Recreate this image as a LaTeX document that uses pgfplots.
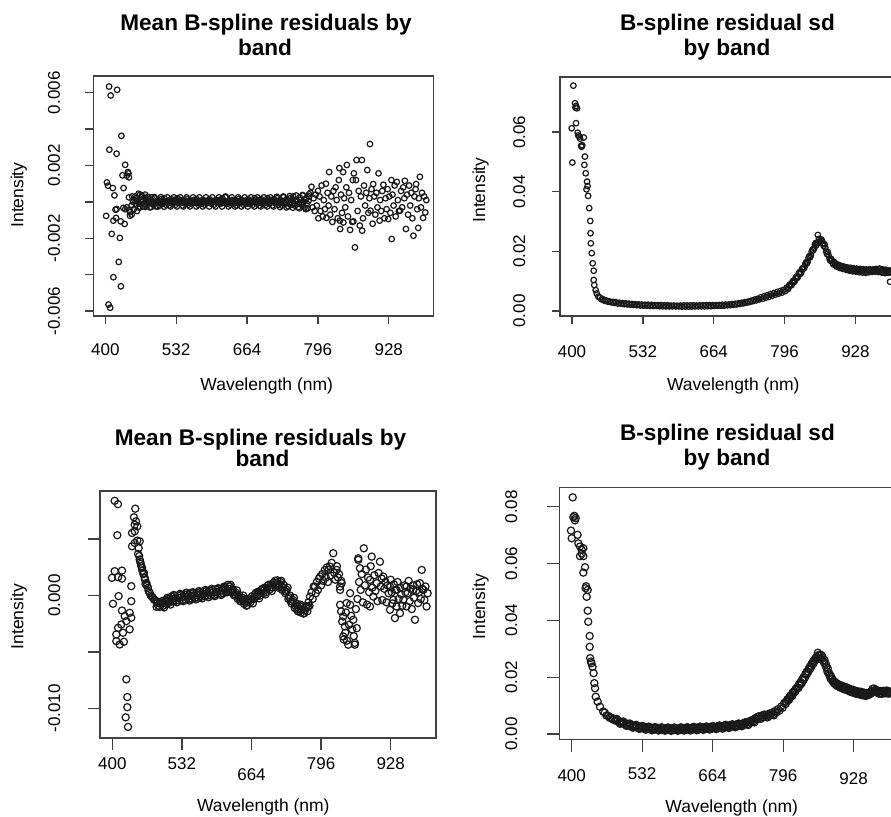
\documentclass[border=0pt]{standalone}
\usepackage{pgfplots}
\pgfplotsset{compat=1.18}
\usepackage{fontspec}
\setmainfont{Liberation Sans}
\begin{document}
\begin{tikzpicture}[x=0.5pt,y=0.5pt]
\useasboundingbox (0,0) rectangle (891,817);
\clip (0,0) rectangle (891,817);
\pgfplotsset{
  rbase/.style={
    scale only axis, anchor=south west,
    axis line style={line width=0.65pt, black!75},
    every tick/.style={line width=0.65pt, black!75},
    tick align=outside, tick pos=left,
    xtick={400,532,664,796,928},
    tick label style={font=\fontsize{8.5}{10}\selectfont, black},
  },
  rpts/.style={only marks, mark=o, mark size=#1, mark options={line width=0.6pt, black!90}},
}
\tikzset{ttl/.style={anchor=base, font=\fontsize{11.3}{13}\selectfont\bfseries},
         lbl/.style={anchor=base, font=\fontsize{8.75}{10}\selectfont}}

% ---------- top left: mean residuals (x1000)
\begin{axis}[rbase, at={(46.65pt,250.5pt)}, width=170pt, height=120pt,
  xmin=377.6, xmax=1011, ymin=-6.27, ymax=6.92, major tick length=4pt,
  xticklabels={400,532,664,796,928},
  ytick={-6,-4,-2,0,2,4,6}, yticklabels={-0.006,,-0.002,,0.002,,0.006},
  xticklabel style={anchor=base, yshift=-16pt},
  yticklabel style={xshift=-12.65pt, rotate=90, anchor=base}]
\addplot[rpts=1.4pt] coordinates {
(407,6.34)(422,6.16)(410,5.85)(430,3.63)(407.5,2.87)(421,2.65)(437,2.04)(442,1.64)(432,1.46)(444,1.35)
(403,1.07)(405,0.89)(414,0.76)(434,0.76)(417,0.36)(444,0.25)(401.5,-0.77)(419,-0.43)(420,-0.88)(428.7,-1.07)
(436,-1.21)(440,-0.3)(445,-0.43)(449,-0.7)(412,-1.76)(427,-1.98)(425,-3.3)(415,-4.14)(429,-4.64)(406,-5.64)
(409,-5.82)(433.5,-0.33)(437,-0.4)(446,-0.57)(449,-0.2)(464.7,0.4)(474,0.21)(458.5,0.03)(440,1.44)(443,1.57)
(421,-0.39)(415,-1.03)(446,-0.76)
(450,0.3)(453,-0.4)(456,0.2)(459,-0.5)(462,0.45)(465,-0.3)(468,0.35)(471,-0.25)(474,0.4)(477,-0.2)
(480,0.15)(483,-0.3)(486,0.25)(489,-0.15)(492,0.2)(495,-0.25)(498,0.1)(501,-0.2)(504,0.15)(507,-0.1)
(510,0.2)(513,-0.15)(516,0.05)(519,-0.2)(522,0.15)(525,-0.1)(528,0.1)(531,-0.15)(534,0.2)(537,-0.05)
(540,0.1)(543,-0.2)(546,0.05)(549,-0.1)(552,0.15)(555,-0.15)(558,0.05)(561,-0.1)(564,0.1)(567,-0.05)
(570,0.15)(573,-0.15)(576,0.05)(579,-0.1)(582,0.1)(585,-0.15)(588,0.05)(591,-0.05)(594,0.15)(597,-0.1)
(600,0.05)(603,-0.15)(606,0.1)(609,-0.05)(612,0.1)(615,-0.1)(618,0.2)(621,-0.05)(624,0.3)(627,-0.1)
(630,0.05)(633,-0.15)(636,0.1)(639,-0.1)(642,0.05)(645,-0.2)(648,0.15)(651,-0.05)(654,0.1)(657,-0.15)
(660,0.05)(663,-0.1)(666,0.15)(669,-0.1)(672,0.05)(675,-0.15)(678,0.2)(681,-0.05)(684,0.1)(687,-0.2)
(690,0.15)(693,-0.1)(696,0.05)(699,-0.15)(702,0.2)(705,-0.1)(708,0.1)(711,-0.2)(714,0.15)(717,-0.05)
(720,0.2)(723,-0.15)(726,0.1)(729,-0.2)(732,0.25)(735,-0.1)(738,0.15)(741,-0.25)(744,0.2)(747,-0.15)
(750,0.3)(753,-0.2)(756,0.1)(759,-0.3)(762,0.25)(765,-0.15)(768,0.35)(771,-0.3)(774,0.2)(777,-0.35)(780,0.3)
(451.5,0.0)(454.5,0.1)(457.5,-0.15)(460.5,0.05)(463.5,-0.1)(466.5,0.1)(469.5,0.0)(472.5,-0.1)(475.5,0.05)(478.5,0.0)
(481.5,-0.05)(484.5,0.05)(487.5,0.0)(490.5,-0.05)(493.5,0.0)(496.5,0.05)(499.5,-0.05)(502.5,0.0)(505.5,0.05)(508.5,-0.05)
(511.5,0.0)(514.5,0.05)(517.5,-0.05)(520.5,0.0)(523.5,0.05)(526.5,-0.05)(529.5,0.0)(532.5,0.05)(535.5,-0.05)(538.5,0.0)
(541.5,0.05)(544.5,-0.05)(547.5,0.0)(550.5,0.05)(553.5,-0.05)(556.5,0.0)(559.5,0.05)(562.5,-0.05)(565.5,0.0)(568.5,0.05)
(571.5,-0.05)(574.5,0.0)(577.5,0.05)(580.5,-0.05)(583.5,0.0)(586.5,0.05)(589.5,-0.05)(592.5,0.0)(595.5,0.05)(598.5,-0.05)
(601.5,0.0)(604.5,0.05)(607.5,-0.05)(610.5,0.0)(613.5,0.05)(616.5,-0.05)(619.5,0.0)(622.5,0.05)(625.5,-0.05)(628.5,0.0)
(631.5,0.05)(634.5,-0.05)(637.5,0.0)(640.5,0.05)(643.5,-0.05)(646.5,0.0)(649.5,0.05)(652.5,-0.05)(655.5,0.0)(658.5,0.05)
(661.5,-0.05)(664.5,0.0)(667.5,0.05)(670.5,-0.05)(673.5,0.0)(676.5,0.05)(679.5,-0.05)(682.5,0.0)(685.5,0.05)(688.5,-0.05)
(691.5,0.0)(694.5,0.05)(697.5,-0.05)(700.5,0.0)(703.5,0.05)(706.5,-0.05)(709.5,0.0)(712.5,0.05)(715.5,-0.05)(718.5,0.0)
(721.5,0.05)(724.5,-0.05)(727.5,0.0)(730.5,0.05)(733.5,-0.05)(736.5,0.0)(739.5,0.05)(742.5,-0.1)(745.5,0.0)(748.5,0.1)
(751.5,-0.1)(754.5,0.05)(757.5,0.0)(760.5,-0.1)(763.5,0.1)(766.5,-0.05)(769.5,0.0)(772.5,0.1)(775.5,-0.1)(778.5,0.05)
(455.5,0.3)(461.5,-0.3)(467.5,0.28)(473.5,-0.28)(479.5,0.28)(485.5,-0.28)(491.5,0.26)(497.5,-0.26)(503.5,0.26)(509.5,-0.26)
(515.5,0.25)(521.5,-0.25)(527.5,0.25)(533.5,-0.25)(539.5,0.25)(545.5,-0.25)(551.5,0.25)(557.5,-0.25)(563.5,0.25)(569.5,-0.25)
(575.5,0.25)(581.5,-0.25)(587.5,0.25)(593.5,-0.25)(599.5,0.25)(605.5,-0.25)(611.5,0.25)(617.5,-0.25)(623.5,0.25)(629.5,-0.25)
(635.5,0.25)(641.5,-0.25)(647.5,0.25)(653.5,-0.25)(659.5,0.25)(665.5,-0.25)(671.5,0.25)(677.5,-0.25)(683.5,0.25)(689.5,-0.25)
(695.5,0.25)(701.5,-0.25)(707.5,0.25)(713.5,-0.25)(719.5,0.28)(725.5,-0.28)(731.5,0.3)(737.5,-0.3)(743.5,0.32)(749.5,-0.32)
(755.5,0.35)(761.5,-0.35)(767.5,0.38)(773.5,-0.4)(779.5,0.42)
(782,0.5)(784,0.83)(786,-0.3)(788,0.2)(790,-0.5)(792,0.4)(794,-0.2)(796,0.6)(797,-0.9)(799,0.3)
(801,-0.5)(803,0.9)(805,-0.8)(807,0.1)(809,-0.4)(811,1.0)(812,-0.88)(814,0.5)(816,-0.2)(817,1.64)
(819,-0.7)(821,0.3)(823,-1.1)(825,0.6)(827,-0.4)(829,0.8)(831,0.1)(833,-0.9)(835,1.2)(836,1.86)
(837,-1.03)(837.5,-1.49)(839,0.4)(841,-0.6)(843,1.64)(843.5,-1.13)(845,0.2)(847,-0.3)(849,0.8)(850,2.03)
(852,-0.8)(854,0.5)(856,-1.54)(858,0.1)(860,-1.1)(861,1.2)(862,-1.07)(863,1.57)(865,-2.5)(867,1.2)
(868,2.3)(870,-0.5)(872,0.6)(874,-1.3)(876,0.3)(878,2.3)(878.5,-1.58)(880,-0.9)(882,0.9)(884,-0.2)
(886,0.5)(888,1.75)(890,-0.6)(892,0.2)(893,3.18)(894,-0.48)(896,0.7)(898,-1.2)(899,0.98)(901,0.3)
(903,-0.7)(905,0.5)(907,-0.3)(909,1.57)(911,-1.03)(912,0.1)(914,-0.5)(916,0.6)(918,0.94)(920,-0.9)
(922,0.2)(924,-0.4)(926,0.7)(927,-0.94)(929,0.3)(931,-0.6)(933,1.2)(933.5,-2.04)(935,0.4)(937,-0.2)
(939,0.9)(941,-0.8)(943,1.1)(945,0.1)(947,-0.5)(949,-0.48)(951,0.6)(953,-0.3)(955,0.8)(957,0.2)
(958,1.16)(960,-1.49)(962,0.4)(964,-0.7)(966,0.9)(968,-0.2)(970,0.5)(972,-0.9)(974,-1.86)(976,0.3)
(978,0.7)(979,0.98)(981,-0.4)(983,-1.43)(984,0.2)(986,1.38)(988,-0.3)(990,0.5)(992,-0.88)(994,0.3)
(996,-0.58)(998,0.1)
};
\end{axis}

% ---------- top right: residual sd (x1000)
\begin{axis}[rbase, at={(280pt,250.5pt)}, width=170pt, height=119.5pt,
  xmin=377.6, xmax=1011, ymin=-1.68, ymax=78.5, major tick length=4pt,
  xticklabels={400,532,664,796,928},
  ytick={0,20,40,60}, yticklabels={0.00,0.02,0.04,0.06},
  xticklabel style={anchor=base, yshift=-16.6pt},
  yticklabel style={xshift=-13.5pt, rotate=90, anchor=base}]
\addplot[rpts=1.4pt] coordinates {
(399.4,61.3)(400.6,49.8)(402.5,75.6)(405.6,69.7)(406.5,68.2)(407.5,68.8)(409.3,68.0)(407.5,63.0)(410.6,59.8)(411.5,58.9)
(413.6,58.5)(418,55.1)(419,55.6)(421.8,58.2)(415,57.8)(417,55.4)(424,51.8)(423,49.0)(425.5,46.2)(428,43.4)
(427,40.8)(429,41.9)(430,38.6)(432,34.5)(434,30.2)(434.5,26.1)(435,22.7)(436.7,19.4)(438.5,16.0)(440.4,13.5)
(440.4,10.4)(441.5,8.7)(444,7.0)(446,5.9)(449,4.8)
(452,4.5)(455,3.9)(458,3.9)(461,3.4)(464,3.5)(467,3.1)(470,3.2)(473,2.9)(476,3.0)(479,2.7)
(482,2.9)(485,2.5)(488,2.75)(491,2.45)(494,2.65)(497,2.3)(500,2.55)(503,2.2)(506,2.45)(509,2.1)
(512,2.35)(515,2.05)(518,2.25)(521,1.95)(524,2.2)(527,1.85)(530,2.15)(533,1.8)(536,2.1)(539,1.75)
(542,2.1)(545,1.7)(548,2.05)(551,1.7)(554,1.95)(557,1.7)(560,1.95)(563,1.6)(566,1.95)(569,1.55)
(572,1.9)(575,1.55)(578,1.9)(581,1.55)(584,1.8)(587,1.55)(590,1.8)(593,1.55)(596,1.75)(599,1.55)
(602,1.8)(605,1.45)(608,1.85)(611,1.5)(614,1.85)(617,1.45)(620,1.85)(623,1.5)(626,1.9)(629,1.55)
(632,1.8)(635,1.55)(638,1.9)(641,1.55)(644,1.9)(647,1.55)(650,1.95)(653,1.6)(656,1.95)(659,1.6)
(662,1.95)(665,1.7)(668,1.95)(671,1.75)(674,2.0)(677,1.75)(680,2.1)(683,1.75)(686,2.15)(689,1.9)
(692,2.15)(695,1.95)(698,2.3)(701,2.05)(704,2.4)(707,2.2)(710,2.55)(713,2.35)(716,2.75)(719,2.55)
(722,2.95)(725,2.75)(728,3.15)(731,3.0)(734,3.45)(737,3.3)(740,3.8)(743,3.55)(746,4.1)(749,3.9)
(752,4.6)(755,4.1)(758,4.95)(761,4.45)(764,5.3)(767,4.75)(770,5.65)(773,5.15)(776,6.0)(779,5.5)
(782,6.35)(785,5.85)(788,6.7)(791,6.15)(794,7.05)(797,6.65)(800,7.8)(803,7.5)(806,8.9)(809,8.7)
(812,10.1)(815,10.0)(818,11.5)(821,11.5)(824,13.0)(827,12.9)(830,14.4)(833,14.6)(836,16.3)(839,16.5)
(842,18.4)(845,18.7)(848,20.6)(851,21.0)(854,22.8)(857,22.8)(860,24.2)(863,23.1)(866,23.4)(869,21.8)
(872,21.2)(875,19.1)(878,18.7)(881,16.9)(884,16.9)(887,15.6)(890,16.0)(893,14.9)(896,15.4)(899,14.4)
(902,15.0)(905,14.1)(908,14.7)(911,13.8)(914,14.4)(917,13.5)(920,14.2)(923,13.3)(926,14.0)(929,13.2)
(932,13.9)(935,13.0)(938,13.8)(941,12.9)(944,13.7)(947,12.8)(950,13.7)(953,13.0)(956,13.6)(959,13.1)
(962,13.7)(965,13.2)(968,13.8)(971,13.1)(974,14.0)(977,12.9)(980,13.8)(983,12.7)(986,13.7)(989,12.8)
(992,13.4)(995,12.9)(998,13.5)
(801.5,7.3)(804.5,8.5)(807.5,8.6)(810.5,9.6)(813.5,9.7)(816.5,11.0)(819.5,11.1)(822.5,12.6)(825.5,12.5)(828.5,14.1)
(831.5,14.2)(834.5,15.7)(837.5,15.9)(840.5,17.8)(843.5,18.0)(846.5,20.0)(849.5,20.4)(852.5,22.3)(855.5,22.1)(858,25.5)
(858.5,23.0)(861.5,23.4)(864.5,24.0)(867.5,22.7)(870.5,22.4)(873.5,19.9)(876.5,19.8)(879.5,17.6)(882.5,17.5)(885.5,16.1)
(888.5,16.4)(891.5,15.3)(894.5,15.6)(897.5,14.7)(900.5,15.2)(903.5,14.4)(906.5,14.9)(909.5,14.2)(912.5,14.6)(915.5,13.9)
(918.5,14.5)(921.5,13.7)(924.5,14.3)(927.5,13.5)(930.5,14.2)(933.5,13.4)(936.5,14.1)(939.5,13.3)(942.5,14.0)(945.5,13.2)
(948.5,13.9)(951.5,13.3)(954.5,14.0)(957.5,13.3)(960.5,13.9)(963.5,13.4)(966.5,14.1)(969.5,13.3)(972.5,14.2)(975.5,13.2)
(978.5,13.9)(981.5,13.0)(984.5,13.8)(987.5,13.0)(990.5,13.6)(992.5,9.8)(993.5,13.1)(996.5,13.6)
};
\end{axis}

% ---------- bottom left: mean residuals (x1000)
\begin{axis}[rbase, at={(50pt,39.5pt)}, width=168pt, height=123.5pt,
  xmin=376.7, xmax=1013.9, ymin=-12.63, ymax=9.27, major tick length=6.25pt,
  xticklabels={400,532,\raisebox{-5.3pt}{664},796,928},
  ytick={-10,-5,0,5}, yticklabels={-0.010,,0.000,},
  xticklabel style={anchor=base, yshift=-9.75pt},
  yticklabel style={xshift=-13.75pt, rotate=90, anchor=base}]
\addplot[rpts=1.8pt] coordinates {
(404.5,8.4)(410.8,8.1)(443.6,7.7)(441,6.94)(445,6.58)(442.5,6.28)(447.4,6.14)(409.5,5.35)(437.4,5.55)(442.5,5.70)
(447.4,4.87)(442.5,4.66)(437.4,4.37)(452,4.81)(448.8,3.69)(452,3.19)(454,2.81)(456.4,2.45)(460.2,2.0)(461.5,1.57)
(464.5,1.12)(467.7,0.68)(471,0.24)(477,-0.2)(483.5,-0.5)(404.5,2.16)(418.4,2.21)(411,1.63)(399.4,1.57)(418.4,1.5)
(436,0.83)(412,-0.05)(401.3,-0.73)(436,-0.5)(418.4,-1.33)(433,-1.53)(436,-1.97)(423.5,-1.82)(426.6,-2.27)(417,-2.57)
(433,-3.0)(411,-2.86)(407.6,-3.45)(420.3,-3.3)(407.6,-4.04)(414,-4.34)(422,-4.1)(426.6,-7.43)(428.5,-9.0)(428.5,-9.9)
(425.4,-10.8)(429.8,-11.65)
(450,4.2)(451,3.5)(453,3.0)(455,2.6)(457,2.2)(459,1.9)(462,1.4)(463,1.0)(466,0.9)(469,0.4)
(473,0.0)(475,-0.1)(479,-0.35)(481,-0.4)(484,-1.0)(486,-0.6)(487,-0.9)(489,-0.7)(490,-1.0)(492,-0.65)
(494,-0.5)(497,-0.9)(500,-0.4)(503,-0.75)(506,-0.3)(509,-0.6)(512,-0.1)(515,-0.5)(518,0.0)(521,-0.45)
(524,0.0)(527,-0.45)(530,0.05)(533,-0.4)(536,0.1)(539,-0.35)(542,0.1)(545,-0.3)(548,0.2)(551,-0.3)
(554,0.2)(557,-0.2)(560,0.25)(563,-0.2)(566,0.3)(569,-0.1)(572,0.35)(575,-0.05)(578,0.4)(581,0.0)
(584,0.45)(587,0.0)(590,0.5)(593,0.05)(596,0.55)(599,0.1)(602,0.6)(605,0.15)(608,0.65)(611,0.2)
(614,0.7)(617,0.4)(619,0.95)(621,0.6)(623,0.8)(626,0.3)(629,0.55)(632,0.0)(635,0.25)(638,-0.3)
(641,0.05)(644,-0.5)(647,-0.2)(650,-0.75)(653,-0.35)(656,-0.85)(659,-0.4)(662,-0.6)(665,-0.05)(668,-0.3)
(671,0.15)(674,-0.1)(677,0.35)(680,0.0)(683,0.5)(686,0.2)(689,0.7)(692,0.3)(695,0.9)(698,0.5)
(701,1.0)(704,0.7)(707,1.15)(710,0.85)(713,1.35)(716,0.8)(719,1.2)(722,0.5)(725,0.95)(728,0.2)
(731,0.5)(734,-0.3)(737,0.0)(740,-0.7)(743,-0.4)(746,-1.1)(749,-0.7)(752,-1.4)(755,-0.9)(758,-1.5)
(761,-1.0)(764,-1.55)(767,-1.0)(770,-1.4)(772,-0.6)(774,-0.9)
(495.5,-0.7)(501.5,-0.55)(507.5,-0.45)(513.5,-0.3)(519.5,-0.25)(525.5,-0.2)(531.5,-0.15)(537.5,-0.1)(543.5,-0.1)(549.5,-0.05)
(555.5,0.0)(561.5,0.05)(567.5,0.1)(573.5,0.15)(579.5,0.2)(585.5,0.25)(591.5,0.3)(597.5,0.3)(603.5,0.4)(609.5,0.45)
(615.5,0.55)(627.5,0.45)(633.5,0.1)(639.5,-0.15)(645.5,-0.35)(651.5,-0.55)(657.5,-0.6)(663.5,-0.35)(669.5,-0.1)(675.5,0.1)
(681.5,0.25)(687.5,0.45)(693.5,0.6)(699.5,0.75)(705.5,0.95)(711.5,1.05)(717.5,1.0)(723.5,0.75)(729.5,0.35)(735.5,-0.15)
(741.5,-0.55)(747.5,-0.9)(753.5,-1.15)(759.5,-1.25)(765.5,-1.3)(771.5,-1.0)
(498.5,-1.05)(504.5,-0.2)(510.5,-0.8)(516.5,0.05)(522.5,-0.6)(528.5,0.15)(534.5,-0.5)(540.5,0.25)(546.5,-0.45)(552.5,0.3)
(558.5,-0.35)(564.5,0.4)(570.5,-0.25)(576.5,0.5)(582.5,-0.15)(588.5,0.6)(594.5,-0.05)(600.5,0.65)(606.5,0.05)(612.5,0.8)
(618.5,0.3)(624.5,0.95)(630.5,0.05)(636.5,0.45)(642.5,-0.5)(648.5,0.0)(654.5,-0.9)(660.5,-0.25)(666.5,-0.7)(672.5,0.25)
(678.5,-0.25)(684.5,0.6)(690.5,0.1)(696.5,0.95)(702.5,0.4)(708.5,1.3)(714.5,0.7)(720.5,1.3)(726.5,0.4)(732.5,0.7)
(738.5,-0.5)(744.5,-0.2)(750.5,-1.25)(756.5,-0.8)(762.5,-1.6)(768.5,-0.95)
(775,-0.09)(778,0.3)(780,-0.3)(782,0.8)(784.4,0.8)(786,0.2)(788,1.2)(790,0.5)(792,1.5)(794,1.68)
(796,0.9)(798,1.9)(800,1.3)(803,2.27)(805,1.6)(807,2.5)(809,1.2)(810,2.27)(812.7,2.57)(814,1.8)
(816,2.9)(819,3.75)(821,2.0)(823,1.4)(825.5,2.27)(826,2.6)(828,1.6)(830,1.9)(832,0.8)(832,0.5)
(834,1.3)(835,1.1)(832,-0.82)(834,-1.4)(836,-2.3)(838,-1.86)(838,-3.63)(839,-3.9)(841,-2.74)(842,-3.3)
(843,-1.5)(844.5,-0.67)(845,-4.0)(847.5,-4.36)(849,-2.6)(851,-0.82)(851,0.21)(853,-1.8)(855,-3.0)(857,-2.15)
(858,-3.6)(860,-4.36)(860,-4.2)(862,-1.2)(863.6,-2.89)(865,-0.3)(866.5,3.16)(866.5,3.3)(868,1.2)(869.7,2.42)
(871,0.5)(873,1.9)(875,-0.6)(877,4.19)(879,0.9)(881,2.3)(883,-0.8)(885,1.6)(887,0.3)(888.7,1.39)
(888.7,-0.97)(890,2.6)(892,3.45)(893,0.7)(895,-0.09)(897,1.8)(899,0.4)(901.4,1.1)(903,-0.5)(905,2.0)
(907.6,3.0)(909,0.8)(911,1.5)(912,-0.4)(914,1.68)(916,0.6)(918,1.2)(920,-0.6)(922,0.9)(924,0.2)
(926.6,0.8)(926.6,-1.27)(928,1.4)(930,0.3)(931,-0.7)(933,-0.38)(934,1.0)(936,-2.0)(937,0.5)(939,0.5)
(939,-0.97)(941,1.2)(943,-0.3)(945.6,-1.56)(946,0.7)(948,0.1)(950,-0.9)(952,-0.38)(954,0.9)(956,0.3)
(958,0.8)(958,-0.97)(960,0.2)(962,1.3)(964,-0.5)(966,0.6)(968,-1.2)(970,0.9)(971,0.5)(972,-0.2)
(974,-2.15)(976,0.4)(978,1.0)(980,-0.67)(982,0.3)(983.5,1.1)(985,-0.3)(986.8,2.27)(988,0.6)(990,0.5)
(992,-0.4)(994,0.8)(996,-0.97)(998,0.2)
};
\end{axis}

% ---------- bottom right: residual sd (x1000)
\begin{axis}[rbase, at={(279.65pt,38.85pt)}, width=170pt, height=125.8pt,
  xmin=376.8, xmax=1013.5, ymin=-1.87, ymax=86.7, major tick length=6.25pt,
  xticklabels={400,\raisebox{1pt}{532},664,796,\raisebox{-1.2pt}{928}},
  ytick={0,20,40,60,80}, yticklabels={0.00,0.02,0.04,0.06,0.08},
  xticklabel style={anchor=base, yshift=-14.95pt},
  yticklabel style={xshift=-14.85pt, rotate=90, anchor=base}]
\addplot[rpts=1.8pt] coordinates {
(398.7,71.6)(400,68.9)(401.9,83.3)(403,76.3)(405,76.8)(407.5,76.0)(406,75.2)(411,70.1)(412.5,67.1)(415.6,66.0)
(418.8,64.8)(421.8,65.4)(415.6,62.6)(419,63.5)(421.8,62.6)(425,58.7)(421.8,56.8)(426,51.3)(427,52.0)(430,50.7)
(428,48.3)(430,43.4)(431,39.5)(433.7,34.5)(433.7,30.7)(434.6,26.7)(436,25.5)(437,24.9)(439,23.7)(441,21.4)
(442.4,17.9)(443.7,16.1)(445,13.1)(448.7,11.4)(453,9.6)(459,7.9)
(462,7.5)(465,6.5)(468,6.4)(471,5.7)(474,5.8)(477,5.1)(480,5.3)(483,4.6)(486,4.8)(489,4.1)
(492,4.3)(495,3.7)(498,3.9)(501,3.3)(504,3.6)(507,2.9)(510,3.3)(513,2.6)(516,3.0)(519,2.4)
(522,2.8)(525,2.2)(528,2.6)(531,2.0)(534,2.5)(537,1.9)(540,2.35)(543,1.75)(546,2.25)(549,1.65)
(552,2.15)(555,1.6)(558,2.1)(561,1.5)(564,2.1)(567,1.45)(570,2.05)(573,1.45)(576,2.0)(579,1.4)
(582,2.0)(585,1.4)(588,2.0)(591,1.4)(594,2.0)(597,1.45)(600,2.0)(603,1.45)(606,2.05)(609,1.5)
(612,2.1)(615,1.5)(618,2.1)(621,1.55)(624,2.15)(627,1.6)(630,2.2)(633,1.6)(636,2.25)(639,1.7)
(642,2.3)(645,1.75)(648,2.3)(651,1.8)(654,2.4)(657,1.85)(660,2.5)(663,1.95)(666,2.55)(669,2.05)
(672,2.65)(675,2.1)(678,2.7)(681,2.2)(684,2.85)(687,2.3)(690,2.95)(693,2.45)(696,3.1)(699,2.55)
(702,3.2)(705,2.7)(708,3.35)(711,2.85)(714,3.5)(717,3.05)(720,3.7)(723,3.25)(726,4.0)(729,3.5)
(732,4.4)(735,3.9)(738,4.9)(741,4.5)(744,5.6)(747,5.2)(750,6.2)(753,5.7)(756,6.5)(759,5.9)
(762,6.7)(765,6.1)(768,7.0)(771,6.4)(774,7.4)(777,6.9)(780,8.0)(783,7.5)(786,8.7)(789,8.2)
(792,9.6)(795,9.2)(798,10.9)(801,10.6)(804,12.2)(807,12.0)(810,13.6)(813,13.4)(816,15.0)(819,14.9)
(822,16.4)(825,16.3)(828,18.1)(831,17.9)(834,19.9)(837,19.9)(840,21.9)(843,21.9)(846,23.7)(849,23.8)
(852,25.6)(855,25.7)(858,27.1)(861,26.8)(864,27.9)(867,26.5)(870,27.0)(873,24.9)(876,24.6)(879,21.9)
(882,21.5)(885,19.4)(888,19.4)(891,17.9)(894,18.1)(897,16.9)(900,17.4)(903,16.3)(906,17.0)(909,15.8)
(912,16.6)(915,15.5)(918,16.1)(921,14.9)(924,15.6)(927,14.5)(930,15.2)(933,14.1)(936,14.9)(939,13.9)
(942,14.8)(945,13.6)(948,14.5)(951,13.4)(954,14.3)(957,13.8)(960,14.8)(963,15.1)(966,16.0)(969,14.8)
(972,15.3)(975,14.2)(978,15.1)(981,14.1)(984,15.2)(987,14.3)(990,15.3)(993,14.2)(996,14.9)(998,14.3)
(484.5,5.3)(490.5,3.6)(496.5,4.4)(502.5,2.85)(508.5,3.7)(514.5,2.2)(520.5,3.2)(526.5,1.8)(532.5,2.85)(538.5,1.5)
(544.5,2.6)(550.5,1.3)(556.5,2.45)(562.5,1.2)(568.5,2.35)(574.5,1.15)(580.5,2.3)(586.5,1.1)(592.5,2.3)(598.5,1.1)
(604.5,2.35)(610.5,1.2)(616.5,2.4)(622.5,1.25)(628.5,2.5)(634.5,1.3)(640.5,2.6)(646.5,1.45)(652.5,2.65)(658.5,1.55)
(664.5,2.8)(670.5,1.7)(676.5,3.0)(682.5,1.85)(688.5,3.2)(694.5,2.1)(700.5,3.4)(706.5,2.35)(712.5,3.7)(718.5,2.7)
(724.5,4.1)(730.5,3.15)(736.5,4.75)(742.5,4.1)(748.5,6.0)(754.5,5.35)(760.5,6.8)(766.5,5.8)(772.5,7.3)(778.5,6.55)
(801.5,11.4)(804.5,11.8)(807.5,12.9)(810.5,13.1)(813.5,14.5)(816.5,14.6)(819.5,15.9)(822.5,16.0)(825.5,17.5)(828.5,17.4)
(831.5,19.2)(834.5,19.1)(837.5,21.0)(840.5,21.1)(843.5,22.8)(846.5,22.9)(849.5,24.8)(852.5,24.7)(855.5,26.4)(858.5,26.2)
(861,28.6)(861.5,27.6)(864.5,26.6)(867.5,27.8)(870.5,25.8)(873.5,26.0)(876.5,23.4)(879.5,23.1)(882.5,20.6)(885.5,20.4)
(888.5,18.6)(891.5,18.6)(894.5,17.3)(897.5,17.7)(900.5,16.7)(903.5,17.1)(906.5,16.2)(909.5,16.7)(912.5,15.6)(915.5,16.3)
(918.5,15.2)(921.5,15.8)(924.5,14.8)(927.5,15.5)(930.5,14.4)(933.5,15.1)(936.5,14.1)(939.5,14.9)(942.5,13.8)(945.5,14.6)
(948.5,13.6)(951.5,14.4)(954.5,13.7)(957.5,14.6)(960.5,14.2)(963.5,15.9)(966.5,15.2)(969.5,15.6)(972.5,14.7)(975.5,15.0)
(978.5,14.3)(981.5,15.0)(984.5,14.5)(987.5,15.1)(990.5,14.4)(993.5,15.0)(996.5,14.6)
};
\end{axis}

% ---------- titles and axis labels
\node[ttl] at (266,786.3) {Mean B-spline residuals by};
\node[ttl] at (265,761) {band};
\node[ttl] at (727.5,786.3) {B-spline residual sd};
\node[ttl] at (727,761) {by band};
\node[ttl] at (260.5,371) {Mean B-spline residuals by};
\node[ttl] at (262.5,350.3) {band};
\node[ttl] at (727.5,376.3) {B-spline residual sd};
\node[ttl] at (727,351) {by band};
\node[lbl] at (266.7,426.3) {Wavelength (nm)};
\node[lbl] at (733.3,426.3) {Wavelength (nm)};
\node[lbl] at (263.3,5.3) {Wavelength (nm)};
\node[lbl] at (731.7,4) {Wavelength (nm)};
\node[lbl, rotate=90] at (23.3,622) {Intensity};
\node[lbl, rotate=90] at (485,627) {Intensity};
\node[lbl, rotate=90] at (23.3,200.3) {Intensity};
\node[lbl, rotate=90] at (485,210.3) {Intensity};
\end{tikzpicture}
\end{document}
